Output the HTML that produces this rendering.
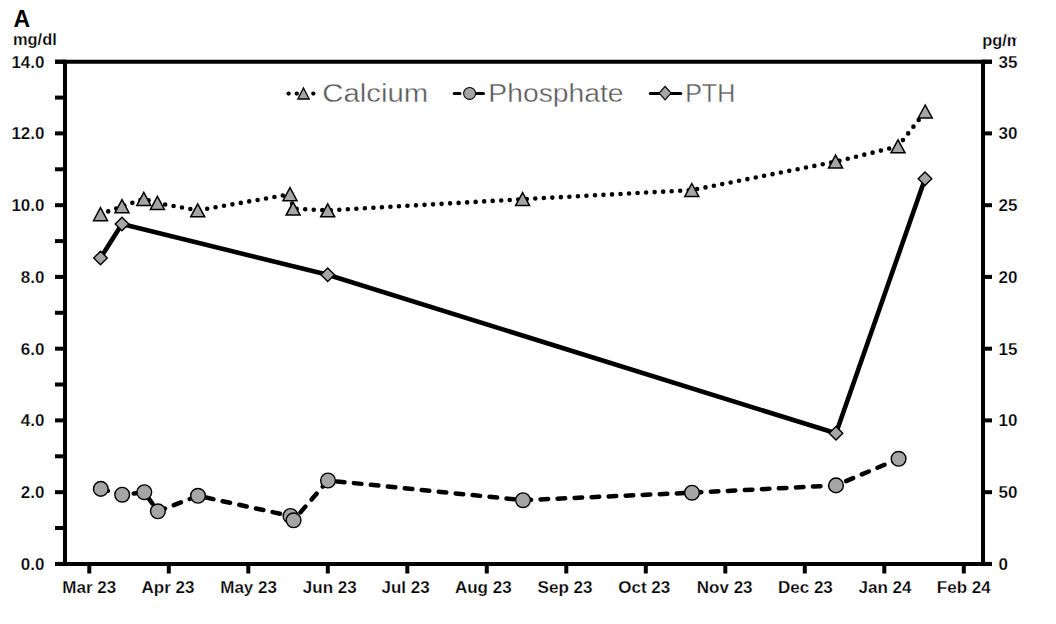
<!DOCTYPE html><html><head><meta charset="utf-8"><style>html,body{margin:0;padding:0;background:#fff;width:1056px;height:624px;overflow:hidden}svg{display:block}text{font-family:"Liberation Sans",sans-serif}</style></head><body>
<svg width="1056" height="624" viewBox="0 0 1056 624">
<rect width="1056" height="624" fill="#fff"/>
<g stroke="#000" stroke-width="4.0" fill="none">
<line x1="55" y1="61.7" x2="992" y2="61.7"/>
<line x1="55" y1="563.9" x2="992" y2="563.9"/>
<line x1="65.0" y1="59.7" x2="65.0" y2="565.9"/>
<line x1="983.0" y1="59.7" x2="983.0" y2="565.9"/>
<line x1="55" y1="563.9" x2="65.0" y2="563.9"/>
<line x1="55" y1="528.0" x2="65.0" y2="528.0"/>
<line x1="55" y1="492.2" x2="65.0" y2="492.2"/>
<line x1="55" y1="456.3" x2="65.0" y2="456.3"/>
<line x1="55" y1="420.4" x2="65.0" y2="420.4"/>
<line x1="55" y1="384.5" x2="65.0" y2="384.5"/>
<line x1="55" y1="348.7" x2="65.0" y2="348.7"/>
<line x1="55" y1="312.8" x2="65.0" y2="312.8"/>
<line x1="55" y1="276.9" x2="65.0" y2="276.9"/>
<line x1="55" y1="241.1" x2="65.0" y2="241.1"/>
<line x1="55" y1="205.2" x2="65.0" y2="205.2"/>
<line x1="55" y1="169.3" x2="65.0" y2="169.3"/>
<line x1="55" y1="133.4" x2="65.0" y2="133.4"/>
<line x1="55" y1="97.6" x2="65.0" y2="97.6"/>
<line x1="55" y1="61.7" x2="65.0" y2="61.7"/>
<line x1="983.0" y1="563.9" x2="992" y2="563.9"/>
<line x1="983.0" y1="492.2" x2="992" y2="492.2"/>
<line x1="983.0" y1="420.4" x2="992" y2="420.4"/>
<line x1="983.0" y1="348.7" x2="992" y2="348.7"/>
<line x1="983.0" y1="276.9" x2="992" y2="276.9"/>
<line x1="983.0" y1="205.2" x2="992" y2="205.2"/>
<line x1="983.0" y1="133.4" x2="992" y2="133.4"/>
<line x1="983.0" y1="61.7" x2="992" y2="61.7"/>
<line x1="89.3" y1="563.9" x2="89.3" y2="573.5"/>
<line x1="168.8" y1="563.9" x2="168.8" y2="573.5"/>
<line x1="248.3" y1="563.9" x2="248.3" y2="573.5"/>
<line x1="327.8" y1="563.9" x2="327.8" y2="573.5"/>
<line x1="407.3" y1="563.9" x2="407.3" y2="573.5"/>
<line x1="486.8" y1="563.9" x2="486.8" y2="573.5"/>
<line x1="566.3" y1="563.9" x2="566.3" y2="573.5"/>
<line x1="645.8" y1="563.9" x2="645.8" y2="573.5"/>
<line x1="725.3" y1="563.9" x2="725.3" y2="573.5"/>
<line x1="804.8" y1="563.9" x2="804.8" y2="573.5"/>
<line x1="884.3" y1="563.9" x2="884.3" y2="573.5"/>
<line x1="963.8" y1="563.9" x2="963.8" y2="573.5"/>
</g>
<g font-size="17" font-weight="bold" fill="#000" stroke="#fff" stroke-width="0.25">
<text x="44.5" y="569.9" text-anchor="end">0.0</text>
<text x="44.5" y="498.2" text-anchor="end">2.0</text>
<text x="44.5" y="426.4" text-anchor="end">4.0</text>
<text x="44.5" y="354.7" text-anchor="end">6.0</text>
<text x="44.5" y="282.9" text-anchor="end">8.0</text>
<text x="44.5" y="211.2" text-anchor="end">10.0</text>
<text x="44.5" y="139.4" text-anchor="end">12.0</text>
<text x="44.5" y="67.7" text-anchor="end">14.0</text>
<text x="998.5" y="569.8">0</text>
<text x="998.5" y="498.1">50</text>
<text x="998.5" y="426.3">10</text>
<text x="998.5" y="354.6">15</text>
<text x="998.5" y="282.8">20</text>
<text x="998.5" y="211.1">25</text>
<text x="998.5" y="139.3">30</text>
<text x="998.5" y="67.6">35</text>
<text x="89.3" y="592.6" text-anchor="middle">Mar 23</text>
<text x="168.0" y="592.6" text-anchor="middle">Apr 23</text>
<text x="248.6" y="592.6" text-anchor="middle">May 23</text>
<text x="329.8" y="592.6" text-anchor="middle">Jun 23</text>
<text x="405.6" y="592.6" text-anchor="middle">Jul 23</text>
<text x="483.3" y="592.6" text-anchor="middle">Aug 23</text>
<text x="565.0" y="592.6" text-anchor="middle">Sep 23</text>
<text x="644.3" y="592.6" text-anchor="middle">Oct 23</text>
<text x="724.7" y="592.6" text-anchor="middle">Nov 23</text>
<text x="805.4" y="592.6" text-anchor="middle">Dec 23</text>
<text x="885.0" y="592.6" text-anchor="middle">Jan 24</text>
<text x="963.8" y="592.6" text-anchor="middle">Feb 24</text>
</g>
<text x="13.5" y="26.7" font-weight="bold" font-size="23" fill="#000">A</text>
<text x="13" y="44.7" font-size="16.4" font-weight="bold" fill="#000" stroke="#fff" stroke-width="0.25">mg/dl</text>
<svg x="0" y="0" width="1016.5" height="624" overflow="hidden"><text x="982.3" y="45.6" font-size="16.4" font-weight="bold" fill="#000" stroke="#fff" stroke-width="0.25">pg/ml</text></svg>
<polyline points="100.5,258.0 122.0,224.0 327.7,274.8 836.0,433.3 925.0,178.8" fill="none" stroke="#000" stroke-width="4.6" stroke-linejoin="round"/>
<polyline points="100.8,488.9 122.2,494.7 144.3,492.2 157.9,511.3 198.0,495.8 290.5,516.0 293.6,520.3 328.0,480.5 523.0,500.2 692.0,492.7 836.0,485.4 898.6,458.8" fill="none" stroke="#000" stroke-width="4.5" stroke-dasharray="7.6 9.445" stroke-dashoffset="0.3" stroke-linecap="round" stroke-linejoin="round"/>
<polyline points="100.5,214.3 122.0,206.3 143.8,199.0 157.4,203.0 197.7,210.4 290.0,194.3 293.1,208.7 327.7,210.4 522.6,199.2 691.8,190.1 835.6,161.7 898.0,146.4 925.2,111.6" fill="none" stroke="#000" stroke-width="4.6" stroke-dasharray="0 8.535" stroke-dashoffset="0.275" stroke-linecap="round" stroke-linejoin="round"/>
<polygon points="100.5,251.2 107.3,258.0 100.5,264.8 93.7,258.0" fill="#a5a5a5" stroke="#000" stroke-width="1.4"/>
<polygon points="122.0,217.2 128.8,224.0 122.0,230.8 115.2,224.0" fill="#a5a5a5" stroke="#000" stroke-width="1.4"/>
<polygon points="327.7,268.0 334.5,274.8 327.7,281.6 320.9,274.8" fill="#a5a5a5" stroke="#000" stroke-width="1.4"/>
<polygon points="836.0,426.5 842.8,433.3 836.0,440.1 829.2,433.3" fill="#a5a5a5" stroke="#000" stroke-width="1.4"/>
<polygon points="925.0,172.0 931.8,178.8 925.0,185.6 918.2,178.8" fill="#a5a5a5" stroke="#000" stroke-width="1.4"/>
<circle cx="100.8" cy="488.9" r="7.35" fill="#a5a5a5" stroke="#000" stroke-width="1.4"/>
<circle cx="122.2" cy="494.7" r="7.35" fill="#a5a5a5" stroke="#000" stroke-width="1.4"/>
<circle cx="144.3" cy="492.2" r="7.35" fill="#a5a5a5" stroke="#000" stroke-width="1.4"/>
<circle cx="157.9" cy="511.3" r="7.35" fill="#a5a5a5" stroke="#000" stroke-width="1.4"/>
<circle cx="198.0" cy="495.8" r="7.35" fill="#a5a5a5" stroke="#000" stroke-width="1.4"/>
<circle cx="290.5" cy="516.0" r="7.35" fill="#a5a5a5" stroke="#000" stroke-width="1.4"/>
<circle cx="293.6" cy="520.3" r="7.35" fill="#a5a5a5" stroke="#000" stroke-width="1.4"/>
<circle cx="328.0" cy="480.5" r="7.35" fill="#a5a5a5" stroke="#000" stroke-width="1.4"/>
<circle cx="523.0" cy="500.2" r="7.35" fill="#a5a5a5" stroke="#000" stroke-width="1.4"/>
<circle cx="692.0" cy="492.7" r="7.35" fill="#a5a5a5" stroke="#000" stroke-width="1.4"/>
<circle cx="836.0" cy="485.4" r="7.35" fill="#a5a5a5" stroke="#000" stroke-width="1.4"/>
<circle cx="898.6" cy="458.8" r="7.35" fill="#a5a5a5" stroke="#000" stroke-width="1.4"/>
<polygon points="100.5,207.7 107.5,220.7 93.5,220.7" fill="#a5a5a5" stroke="#000" stroke-width="1.5" stroke-linejoin="miter"/>
<polygon points="122.0,199.7 129.0,212.7 115.0,212.7" fill="#a5a5a5" stroke="#000" stroke-width="1.5" stroke-linejoin="miter"/>
<polygon points="143.8,192.4 150.8,205.4 136.8,205.4" fill="#a5a5a5" stroke="#000" stroke-width="1.5" stroke-linejoin="miter"/>
<polygon points="157.4,196.4 164.4,209.4 150.4,209.4" fill="#a5a5a5" stroke="#000" stroke-width="1.5" stroke-linejoin="miter"/>
<polygon points="197.7,203.8 204.7,216.8 190.7,216.8" fill="#a5a5a5" stroke="#000" stroke-width="1.5" stroke-linejoin="miter"/>
<polygon points="290.0,187.7 297.0,200.7 283.0,200.7" fill="#a5a5a5" stroke="#000" stroke-width="1.5" stroke-linejoin="miter"/>
<polygon points="293.1,202.1 300.1,215.1 286.1,215.1" fill="#a5a5a5" stroke="#000" stroke-width="1.5" stroke-linejoin="miter"/>
<polygon points="327.7,203.8 334.7,216.8 320.7,216.8" fill="#a5a5a5" stroke="#000" stroke-width="1.5" stroke-linejoin="miter"/>
<polygon points="522.6,192.6 529.6,205.6 515.6,205.6" fill="#a5a5a5" stroke="#000" stroke-width="1.5" stroke-linejoin="miter"/>
<polygon points="691.8,183.5 698.8,196.5 684.8,196.5" fill="#a5a5a5" stroke="#000" stroke-width="1.5" stroke-linejoin="miter"/>
<polygon points="835.6,155.1 842.6,168.1 828.6,168.1" fill="#a5a5a5" stroke="#000" stroke-width="1.5" stroke-linejoin="miter"/>
<polygon points="898.0,139.8 905.0,152.8 891.0,152.8" fill="#a5a5a5" stroke="#000" stroke-width="1.5" stroke-linejoin="miter"/>
<polygon points="925.2,105.0 932.2,118.0 918.2,118.0" fill="#a5a5a5" stroke="#000" stroke-width="1.5" stroke-linejoin="miter"/>
<g>
<circle cx="288.6" cy="93.6" r="2.15" fill="#000"/>
<circle cx="296.8" cy="93.6" r="2.15" fill="#000"/>
<circle cx="313.3" cy="93.6" r="2.15" fill="#000"/>
<polygon points="303.5,88.0 309.2,99.0 297.8,99.0" fill="#a5a5a5" stroke="#000" stroke-width="1.3"/>
<text x="322.3" y="101.5" font-size="26.5" fill="#5a5a5a" stroke="#fff" stroke-width="0.35" textLength="106" lengthAdjust="spacingAndGlyphs">Calcium</text>
<line x1="454.2" y1="93.5" x2="460" y2="93.5" stroke="#000" stroke-width="3" stroke-linecap="round"/>
<line x1="470" y1="93.5" x2="483.5" y2="93.5" stroke="#000" stroke-width="3" stroke-linecap="round"/>
<circle cx="469.6" cy="93.4" r="5.95" fill="#a5a5a5" stroke="#000" stroke-width="1.1"/>
<text x="488.3" y="101.5" font-size="26.5" fill="#5a5a5a" stroke="#fff" stroke-width="0.35" textLength="135.3" lengthAdjust="spacingAndGlyphs">Phosphate</text>
<line x1="650.3" y1="93.6" x2="680.8" y2="93.6" stroke="#000" stroke-width="3" stroke-linecap="round"/>
<polygon points="665.1,86.3 671.1,93.05 665.1,99.8 659.1,93.05" fill="#a5a5a5" stroke="#000" stroke-width="1.2"/>
<text x="685.2" y="101.5" font-size="26.5" fill="#5a5a5a" stroke="#fff" stroke-width="0.35" textLength="50" lengthAdjust="spacingAndGlyphs">PTH</text>
</g>
</svg></body></html>
